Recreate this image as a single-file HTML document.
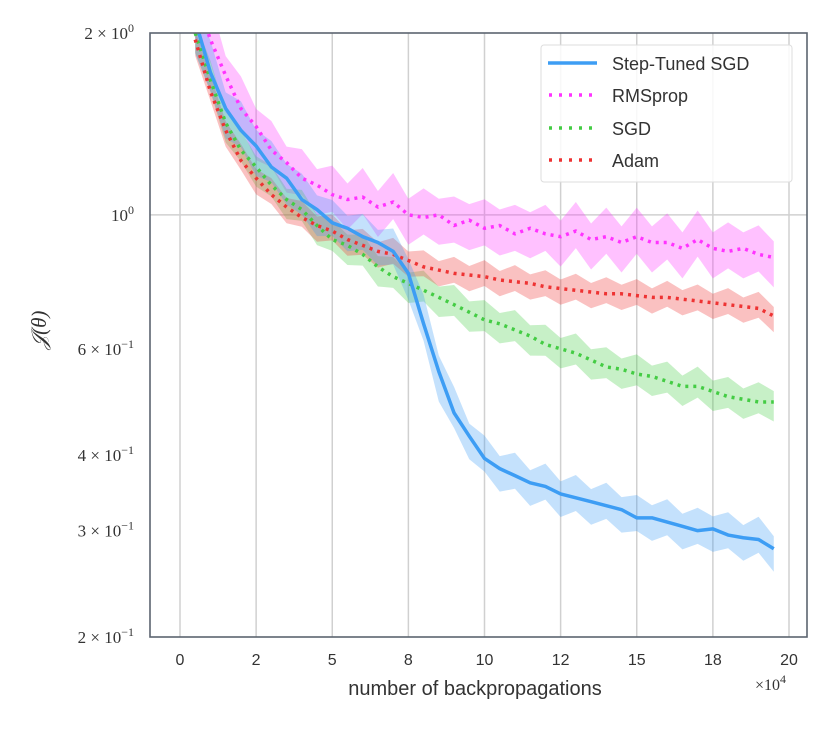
<!DOCTYPE html>
<html><head><meta charset="utf-8"><style>
body{margin:0;background:#fff;width:830px;height:726px;overflow:hidden;font-family:"Liberation Sans",sans-serif}
</style></head><body>
<svg id="chart" width="830" height="726" xmlns="http://www.w3.org/2000/svg">
<g id="grid"></g>
<g id="bands"></g>
<g id="lines"></g>
<rect x="150" y="33" width="657" height="604" fill="none" stroke="#5b6470" stroke-width="1.6"/>
<g id="xticks" font-size="16" fill="#333" text-anchor="middle"></g>
<g id="yticks" font-family="Liberation Serif,serif" font-size="17" fill="#333" text-anchor="end"></g>
<text x="475" y="695" font-size="20" fill="#333" text-anchor="middle">number of backpropagations</text>
<text x="755" y="690" font-family="Liberation Serif,serif" font-size="16" fill="#333">×10<tspan dy="-7" font-size="12">4</tspan></text>
<text transform="translate(46,330) rotate(-90)" font-family="Liberation Serif,serif" font-size="21" font-style="italic" fill="#333" text-anchor="middle">𝒥(θ)</text>
<g>
<rect x="541" y="45" width="251" height="137" rx="3" fill="#fff" fill-opacity="0.85" stroke="#ddd"/>
<line x1="548" y1="63" x2="597" y2="63" stroke="#3d9df4" stroke-width="3.5"/>
<text x="612" y="70" font-size="18" fill="#333">Step-Tuned SGD</text>
<line x1="549" y1="95" x2="597" y2="95" stroke="#ff33ff" stroke-width="3.5" stroke-dasharray="3,7"/>
<text x="612" y="102" font-size="18" fill="#333">RMSprop</text>
<line x1="549" y1="128" x2="597" y2="128" stroke="#44cc44" stroke-width="3.5" stroke-dasharray="3,7"/>
<text x="612" y="135" font-size="18" fill="#333">SGD</text>
<line x1="549" y1="160" x2="597" y2="160" stroke="#ee3333" stroke-width="3.5" stroke-dasharray="3,7"/>
<text x="612" y="167" font-size="18" fill="#333">Adam</text>
</g>
</svg>
<script>
const xTickVals=[0,2.5,5,7.5,10,12.5,15,17.5,20];
const xTickLabels=["0","2","5","8","10","12","15","18","20"];
const yTickVals=[2,1,0.6,0.4,0.3,0.2];
const yTickMant=["2 × 10","10","6 × 10","4 × 10","3 × 10","2 × 10"];
const yTickExp=["0","0","−1","−1","−1","−1"];
const yMinorGrid=[1];
const xs=[0.5,1,1.5,2,2.5,3,3.5,4,4.5,5,5.5,6,6.5,7,7.5,8,8.5,9,9.5,10,10.5,11,11.5,12,12.5,13,13.5,14,14.5,15,15.5,16,16.5,17,17.5,18,18.5,19,19.5];
const stepTuned=[2.1,1.72,1.5,1.38,1.3,1.2,1.15,1.06,1.02,0.97,0.95,0.92,0.9,0.87,0.8,0.66,0.55,0.47,0.43,0.395,0.38,0.37,0.36,0.355,0.345,0.34,0.335,0.33,0.325,0.315,0.315,0.31,0.305,0.3,0.302,0.295,0.292,0.29,0.28];
const stepTunedSpread=[0.1,0.1,0.09,0.09,0.09,0.08,0.08,0.08,0.08,0.07,0.07,0.07,0.07,0.07,0.08,0.09,0.09,0.08,0.07,0.07,0.07,0.07,0.07,0.07,0.07,0.07,0.07,0.07,0.07,0.07,0.07,0.07,0.07,0.07,0.07,0.07,0.07,0.07,0.07];
const rmsprop=[2.3,1.95,1.7,1.5,1.4,1.28,1.22,1.15,1.12,1.08,1.06,1.07,1.03,1.05,1.0,0.99,1.0,0.96,0.98,0.95,0.96,0.93,0.95,0.93,0.92,0.94,0.91,0.92,0.9,0.92,0.9,0.9,0.88,0.91,0.88,0.87,0.88,0.86,0.85];
const rmspropSpread=[0.12,0.12,0.11,0.1,0.1,0.09,0.09,0.09,0.09,0.09,0.09,0.09,0.09,0.09,0.09,0.09,0.09,0.09,0.09,0.09,0.09,0.09,0.09,0.09,0.09,0.09,0.09,0.09,0.09,0.09,0.09,0.09,0.09,0.09,0.09,0.09,0.09,0.09,0.09];
const sgd=[2.0,1.67,1.42,1.28,1.2,1.12,1.06,1.02,0.96,0.91,0.89,0.86,0.82,0.79,0.77,0.75,0.73,0.71,0.69,0.67,0.66,0.645,0.63,0.61,0.6,0.59,0.575,0.56,0.555,0.545,0.54,0.53,0.52,0.52,0.51,0.5,0.495,0.49,0.49];
const sgdSpread=[0.06,0.06,0.06,0.06,0.06,0.06,0.06,0.06,0.06,0.06,0.06,0.06,0.06,0.06,0.06,0.06,0.06,0.06,0.06,0.06,0.06,0.06,0.06,0.06,0.06,0.06,0.06,0.06,0.06,0.06,0.06,0.06,0.06,0.06,0.06,0.06,0.06,0.06,0.06];
const adam=[1.95,1.6,1.38,1.23,1.15,1.08,1.03,0.99,0.96,0.94,0.91,0.89,0.87,0.86,0.84,0.82,0.81,0.8,0.795,0.79,0.78,0.775,0.77,0.76,0.755,0.75,0.745,0.74,0.74,0.735,0.73,0.73,0.725,0.72,0.715,0.71,0.705,0.7,0.68];
const adamSpread=[0.05,0.05,0.05,0.05,0.05,0.05,0.05,0.05,0.05,0.05,0.05,0.05,0.05,0.05,0.05,0.05,0.05,0.05,0.05,0.05,0.05,0.05,0.05,0.05,0.05,0.05,0.05,0.05,0.05,0.05,0.05,0.05,0.05,0.05,0.05,0.05,0.05,0.05,0.05];

const NS="http://www.w3.org/2000/svg";
const X0=180,X1=789,TOP=33,BOT=637;
const sx=v=>X0+(X1-X0)*v/20;
const sy=v=>TOP+(BOT-TOP)*Math.log10(2/v)/1;
function mk(tag,parent,attrs){const e=document.createElementNS(NS,tag);for(const k in attrs)e.setAttribute(k,attrs[k]);parent.appendChild(e);return e;}
const grid=document.getElementById('grid');
xTickVals.forEach(v=>{const l=mk('line',grid,{x1:sx(v),x2:sx(v),y1:TOP,y2:BOT,stroke:'#d0d0d0','stroke-width':1.5});

});
yMinorGrid.forEach(v=>{const l=mk('line',grid,{x1:150,x2:807,y1:sy(v),y2:sy(v),stroke:'#d0d0d0','stroke-width':1.5});

});
const xt=document.getElementById('xticks');
xTickVals.forEach((v,i)=>{const t=mk('text',xt,{x:sx(v),y:665});t.textContent=xTickLabels[i];

});
const yt=document.getElementById('yticks');
yTickVals.forEach((v,i)=>{const t=mk('text',yt,{x:134,y:sy(v)+6});t.textContent=yTickMant[i];
const s=mk('tspan',t,{dy:-7,'font-size':12});s.textContent=yTickExp[i];

});
const clip=mk('clipPath',document.getElementById('chart'),{id:'pc'});mk('rect',clip,{x:150,y:TOP,width:657,height:BOT-TOP});
const series=[
{name:'rmsprop',v:rmsprop,s:rmspropSpread,c:'#ff33ff',dash:'3,5'},
{name:'sgd',v:sgd,s:sgdSpread,c:'#44cc44',dash:'3,5'},
{name:'adam',v:adam,s:adamSpread,c:'#ee3333',dash:'3,5'},
{name:'step-tuned-sgd',v:stepTuned,s:stepTunedSpread,c:'#3d9df4',dash:null}];
const bands=document.getElementById('bands'),lines=document.getElementById('lines');
bands.setAttribute('clip-path','url(#pc)');lines.setAttribute('clip-path','url(#pc)');
series.forEach(se=>{
 let up=xs.map((x,i)=>sx(x)+','+sy(se.v[i]*(1+se.s[i]*(i%2?1.3:0.7))));
 let lo=xs.map((x,i)=>sx(x)+','+sy(se.v[i]*(1-se.s[i]*(i%2?0.7:1.2)))).reverse();
 const b=mk('polygon',bands,{points:up.concat(lo).join(' '),fill:se.c,'fill-opacity':0.3});
 
 
 const a={points:xs.map((x,i)=>sx(x)+','+sy(se.v[i])).join(' '),fill:'none',stroke:se.c,'stroke-width':3.5,'stroke-linejoin':'round'};
 if(se.dash)a['stroke-dasharray']=se.dash;
 const l=mk('polyline',lines,a);
 
 
});
</script>
</body></html>
